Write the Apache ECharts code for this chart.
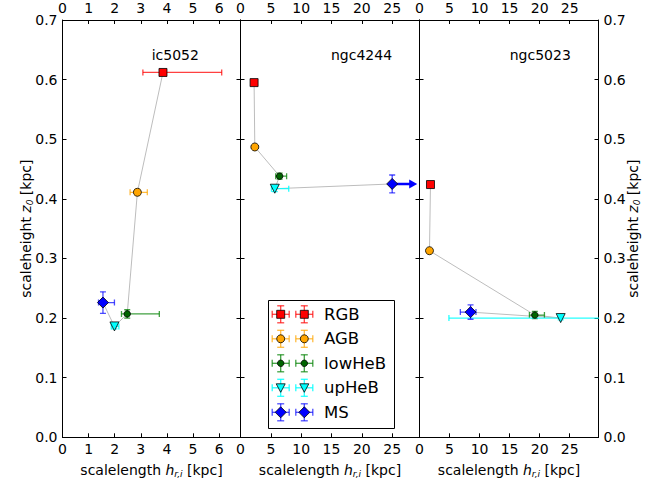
<!DOCTYPE html>
<html>
<head>
<meta charset="utf-8">
<script src="https://cdn.jsdelivr.net/npm/echarts@6/dist/echarts.min.js"></script>
<style>
html, body { margin: 0; padding: 0; background: #fff; }
#chart { width: 666px; height: 479px; }
</style>
</head>
<body>
<div id="chart"></div>
<script>
const populations = ['RGB', 'AGB', 'lowHeB', 'upHeB', 'MS']
const galaxies = ['ic5052', 'ngc4244', 'ngc5023']

// scalelength h_r [kpc] with lower / upper error, scaleheight z0 [kpc] with error
const hrIc5052 = [3.85, 2.87, 2.48, 1.99, 1.55]
const hrLoIc5052 = [0.77, 0.28, 0.22, 0.12, 0.17]
const hrHiIc5052 = [2.25, 0.38, 1.23, 0.17, 0.44]
const z0Ic5052 = [0.612, 0.411, 0.207, 0.186, 0.226]
const z0ErrIc5052 = [0.003, 0.005, 0.007, 0.004, 0.018]

const hrNgc4244 = [2.24, 2.36, 6.45, 5.65, 25.0]
const hrLoNgc4244 = [0.15, 0.15, 0.65, 0.55, 0]
const hrHiNgc4244 = [0.15, 0.15, 1.15, 2.3, 0]
const z0Ngc4244 = [0.595, 0.487, 0.438, 0.417, 0.425]
const z0ErrNgc4244 = [0.003, 0.003, 0.005, 0.005, 0.015]
const lowerLimNgc4244 = [0, 0, 0, 0, 1]

const hrNgc5023 = [1.83, 1.66, 19.2, 23.5, 8.5]
const hrLoNgc5023 = [0.1, 0.1, 0.9, 18.6, 1.7]
const hrHiNgc5023 = [0.1, 0.1, 1.6, 12.0, 0.9]
const z0Ngc5023 = [0.424, 0.313, 0.205, 0.200, 0.210]
const z0ErrNgc5023 = [0.003, 0.003, 0.006, 0.003, 0.012]

const xMaxes = [6.82, 29.5, 29.8]
const xSteps = [1, 5, 5]
const yTicks = [0, 0.1, 0.2, 0.3, 0.4, 0.5, 0.6, 0.7]

const hrAll = [hrIc5052, hrNgc4244, hrNgc5023]
const hrLoAll = [hrLoIc5052, hrLoNgc4244, hrLoNgc5023]
const hrHiAll = [hrHiIc5052, hrHiNgc4244, hrHiNgc5023]
const z0All = [z0Ic5052, z0Ngc4244, z0Ngc5023]
const z0ErrAll = [z0ErrIc5052, z0ErrNgc4244, z0ErrNgc5023]
const limAll = [[0, 0, 0, 0, 0], lowerLimNgc4244, [0, 0, 0, 0, 0]]

const FONT = 'DejaVu Sans'
const markers = {
  RGB: { symbol: 'rect', size: 8, color: '#ff0000', err: 'rgba(255,0,0,0.75)' },
  AGB: { symbol: 'circle', size: 8, color: '#ffa500', err: 'rgba(255,165,0,0.75)' },
  lowHeB: { symbol: 'circle', size: 6.5, color: '#006400', err: 'rgba(0,128,0,0.75)' },
  upHeB: { symbol: 'triangle', rotate: 180, size: 9, color: '#00ffff', err: 'rgba(0,255,255,0.85)' },
  MS: { symbol: 'diamond', size: 11, color: '#0000ff', err: 'rgba(0,0,255,0.7)' }
}

const grids = [
  { left: 62.5, top: 20, width: 178, height: 417.3 },
  { left: 240.5, top: 20, width: 179, height: 417.3 },
  { left: 419.5, top: 20, width: 179, height: 417.3 }
]

const tickStyle = { show: true, inside: true, length: 4, lineStyle: { color: '#000', width: 1 } }
const lineStyle = { show: true, onZero: false, lineStyle: { color: '#000', width: 1 } }
const nameRich = {
  m: { fontFamily: FONT, fontStyle: 'italic', fontSize: 14, color: '#000' },
  s: { fontFamily: FONT, fontStyle: 'italic', fontSize: 9, color: '#000', padding: [8, 0, 0, 0] }
}

const xAxes = []
const yAxes = []
galaxies.forEach((g, gi) => {
  ;['bottom', 'top'].forEach(pos => {
    xAxes.push({
      type: 'value', gridIndex: gi, position: pos,
      min: 0, max: xMaxes[gi], interval: xSteps[gi],
      axisLine: lineStyle, axisTick: tickStyle, splitLine: { show: false },
      axisLabel: {
        margin: 5, color: '#000', fontSize: 14, fontFamily: FONT, showMaxLabel: false,
        formatter: v => (Math.abs(v / xSteps[gi] - Math.round(v / xSteps[gi])) < 1e-6 ? String(Math.round(v)) : '')
      },
      name: pos === 'bottom' ? 'scalelength {m|h}{s|r,i} [kpc]' : '',
      nameLocation: 'middle', nameGap: 24, nameMoveOverlap: false,
      nameTextStyle: { fontFamily: FONT, fontSize: 14, color: '#000', rich: nameRich }
    })
  })
  ;['left', 'right'].forEach(pos => {
    const showLabel = (gi === 0 && pos === 'left') || (gi === 2 && pos === 'right')
    yAxes.push({
      type: 'value', gridIndex: gi, position: pos,
      min: yTicks[0], max: yTicks[yTicks.length - 1], interval: 0.1,
      axisLine: lineStyle, axisTick: tickStyle, splitLine: { show: false },
      axisLabel: { show: showLabel, margin: 5, color: '#000', fontSize: 14, fontFamily: FONT, formatter: v => v.toFixed(1) },
      name: showLabel ? 'scaleheight {m|z}{s|0} [kpc]' : '',
      nameLocation: 'middle', nameRotate: 90, nameGap: pos === 'left' ? 28 : 26, nameMoveOverlap: false,
      nameTextStyle: { fontFamily: FONT, fontSize: 14, color: '#000', rich: nameRich }
    })
  })
})

function renderErrorBar (params, api) {
  const x = api.value(0)
  const y = api.value(3)
  const c = api.coord([x, y])
  const l = api.coord([api.value(1), y])
  const r = api.coord([api.value(2), y])
  const b = api.coord([x, api.value(4)])
  const t = api.coord([x, api.value(5)])
  const color = api.visual('color')
  const st = { stroke: color, lineWidth: 1.3 }
  const cap = 3
  const seg = (x1, y1, x2, y2, s) => ({ type: 'line', shape: { x1, y1, x2, y2 }, style: s || st })
  const ch = []
  if (r[0] - l[0] > 0.5) {
    ch.push(seg(l[0], c[1], r[0], c[1]), seg(l[0], c[1] - cap, l[0], c[1] + cap), seg(r[0], c[1] - cap, r[0], c[1] + cap))
  }
  ch.push(seg(c[0], b[1], c[0], t[1]), seg(c[0] - cap, b[1], c[0] + cap, b[1]), seg(c[0] - cap, t[1], c[0] + cap, t[1]))
  if (api.value(6)) {
    const len = 25
    ch.push(seg(c[0], c[1], c[0] + len - 7, c[1], { stroke: '#0000ff', lineWidth: 2.6 }))
    ch.push({ type: 'polygon', shape: { points: [[c[0] + len - 8, c[1] - 4.5], [c[0] + len, c[1]], [c[0] + len - 8, c[1] + 4.5]] }, style: { fill: '#0000ff' } })
  }
  return { type: 'group', children: ch }
}

const series = []
galaxies.forEach((g, gi) => {
  const hr = hrAll[gi]
  const z0 = z0All[gi]
  series.push({
    type: 'line', name: g + ' track', xAxisIndex: 2 * gi, yAxisIndex: 2 * gi,
    data: hr.map((x, i) => [x, z0[i]]), symbol: 'none', silent: true, z: 1,
    lineStyle: { color: '#bdbdbd', width: 1 }
  })
  populations.forEach((p, pi) => {
    const m = markers[p]
    const x = hr[pi]
    const y = z0[pi]
    series.push({
      type: 'custom', name: p, xAxisIndex: 2 * gi, yAxisIndex: 2 * gi, clip: true, z: 2,
      itemStyle: { color: m.err },
      encode: { x: [0, 1, 2], y: [3, 4, 5] },
      data: [[x, x - hrLoAll[gi][pi], x + hrHiAll[gi][pi], y, y - z0ErrAll[gi][pi], y + z0ErrAll[gi][pi], limAll[gi][pi]]],
      renderItem: renderErrorBar
    })
    series.push({
      type: 'scatter', name: p, xAxisIndex: 2 * gi, yAxisIndex: 2 * gi, z: 3,
      symbol: m.symbol, symbolSize: m.size, symbolRotate: m.rotate || 0,
      itemStyle: { color: m.color, borderColor: '#000', borderWidth: 0.8, opacity: 1 },
      data: [[x, y]]
    })
  })
})

// legend box drawn as graphic (two markers with error bars per entry)
function legendMarker (p, cx, cy) {
  const m = markers[p]
  const st = { fill: m.color, stroke: '#000', lineWidth: 0.8 }
  if (m.symbol === 'rect') return { type: 'rect', shape: { x: cx - 4, y: cy - 4, width: 8, height: 8 }, style: st }
  if (m.symbol === 'circle') return { type: 'circle', shape: { cx, cy, r: m.size / 2 }, style: st }
  if (m.symbol === 'triangle') return { type: 'polygon', shape: { points: [[cx - 4.5, cy - 4], [cx + 4.5, cy - 4], [cx, cy + 4.5]] }, style: st }
  return { type: 'polygon', shape: { points: [[cx, cy - 5.5], [cx + 5.5, cy], [cx, cy + 5.5], [cx - 5.5, cy]] }, style: st }
}
const legendEls = [{
  type: 'rect', shape: { x: 268.5, y: 300.5, width: 126, height: 128 },
  style: { fill: '#fff', stroke: '#000', lineWidth: 1 }
}]
populations.forEach((p, i) => {
  const cy = 314.3 + 24.5 * i
  const est = { stroke: markers[p].err, lineWidth: 1.3 }
  ;[280.7, 304.3].forEach(cx => {
    const s = 8.5
    const cap = 3.5
    ;[[cx - s, cy, cx + s, cy], [cx, cy - s, cx, cy + s], [cx - s, cy - cap, cx - s, cy + cap], [cx + s, cy - cap, cx + s, cy + cap],
      [cx - cap, cy - s, cx + cap, cy - s], [cx - cap, cy + s, cx + cap, cy + s]].forEach(q => {
      legendEls.push({ type: 'line', shape: { x1: q[0], y1: q[1], x2: q[2], y2: q[3] }, style: est })
    })
    legendEls.push(legendMarker(p, cx, cy))
  })
  legendEls.push({
    type: 'text', x: 324, y: cy,
    style: { text: p, fontFamily: FONT, fontSize: 16.5, fill: '#000', verticalAlign: 'middle' }
  })
})

const titleLefts = [151.7, 331, 509.7]
const option = {
  animation: false,
  backgroundColor: '#fff',
  textStyle: { fontFamily: FONT },
  title: galaxies.map((g, gi) => ({
    text: g, left: titleLefts[gi], top: 48, padding: 0,
    textStyle: { fontFamily: FONT, fontSize: 14, fontWeight: 'normal', color: '#000' }
  })),
  grid: grids.map(g => Object.assign({ containLabel: false, outerBoundsMode: 'none' }, g)),
  xAxis: xAxes,
  yAxis: yAxes,
  series,
  graphic: { elements: [{ type: 'group', z: 100, children: legendEls }] }
}

const myChart = echarts.init(document.getElementById('chart'), null, { renderer: 'svg' })
myChart.setOption(option)
</script>
</body>
</html>
